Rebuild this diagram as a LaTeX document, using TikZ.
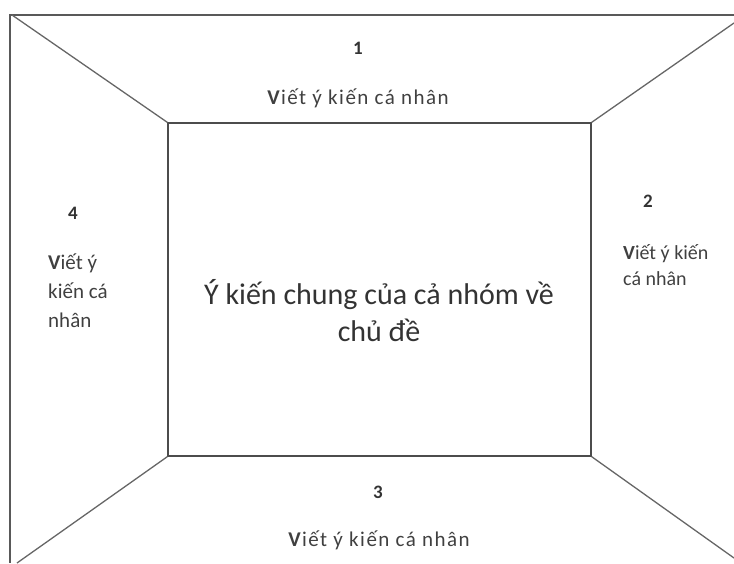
\documentclass[tikz,border=0pt]{standalone}
\usepackage{fontspec}
\setmainfont{Carlito}
\newfontfamily\spaced[LetterSpace=7]{Carlito}
\usepackage{tikz}
\usetikzlibrary{positioning}

\begin{document}
\begin{tikzpicture}[
    x=1pt, y=-1pt,
    frame/.style  = {draw=black!65, line width=1.3pt},
    board/.style  = {rectangle, draw=black!70, line width=1.3pt,
                     minimum width=423pt, minimum height=333pt,
                     inner sep=0pt},
    corner/.style = {draw=black!60, line width=1.3pt},
    num/.style    = {font=\fontsize{19}{21}\selectfont\bfseries,
                     text=black!80, inner sep=0pt},
    wide/.style   = {font=\spaced\fontsize{21}{24}\selectfont,
                     text=black!75, inner sep=0pt},
    side/.style   = {align=left, anchor=west, text=black!75, inner sep=0pt},
    topic/.style  = {align=center, text=black!80, inner sep=0pt,
                     font=\fontsize{30}{37}\selectfont}
]
\useasboundingbox (0,0) rectangle (734,563);

% ========= outer frame =========
\coordinate (ftop) at (734,15);
\coordinate (fcor) at (10,15);
\coordinate (fbot) at (10,563);
\draw[frame] (ftop) -- (fcor) -- (fbot);

% ========= shared board =========
\node[board] (board) at (379.5,289.5) {};
\node[topic] (common) at (379,311)
    {Ý kiến chung của cả nhóm về\\chủ đề};

% ========= corner lines =========
\coordinate (otl) at (12,15);
\coordinate (otr) at (734,23);
\coordinate (obl) at (17,563);
\coordinate (obr) at (734,558);
\draw[corner] (board.north west) -- (otl);
\draw[corner] (board.north east) -- (otr);
\draw[corner] (board.south west) -- (obl);
\draw[corner] (board.south east) -- (obr);

% ========= members =========
\node[num]  (n1) at (358,48)  {1};
\node[wide] (t1) at (358,98)  {\textbf{V}iết ý kiến cá nhân};

\node[num]  (n2) at (648,201) {2};
\node[side, font=\fontsize{20}{26}\selectfont] (t2) at (623,265)
    {\textbf{V}iết ý kiến\\cá nhân};

\node[num]  (n3) at (378,492) {3};
\node[wide] (t3) at (379,540) {\textbf{V}iết ý kiến cá nhân};

\node[num]  (n4) at (73,213)  {4};
\node[side, font=\fontsize{21}{29}\selectfont] (t4) at (48,291)
    {\textbf{V}iết ý\\kiến cá\\nhân};
\end{tikzpicture}
\end{document}
